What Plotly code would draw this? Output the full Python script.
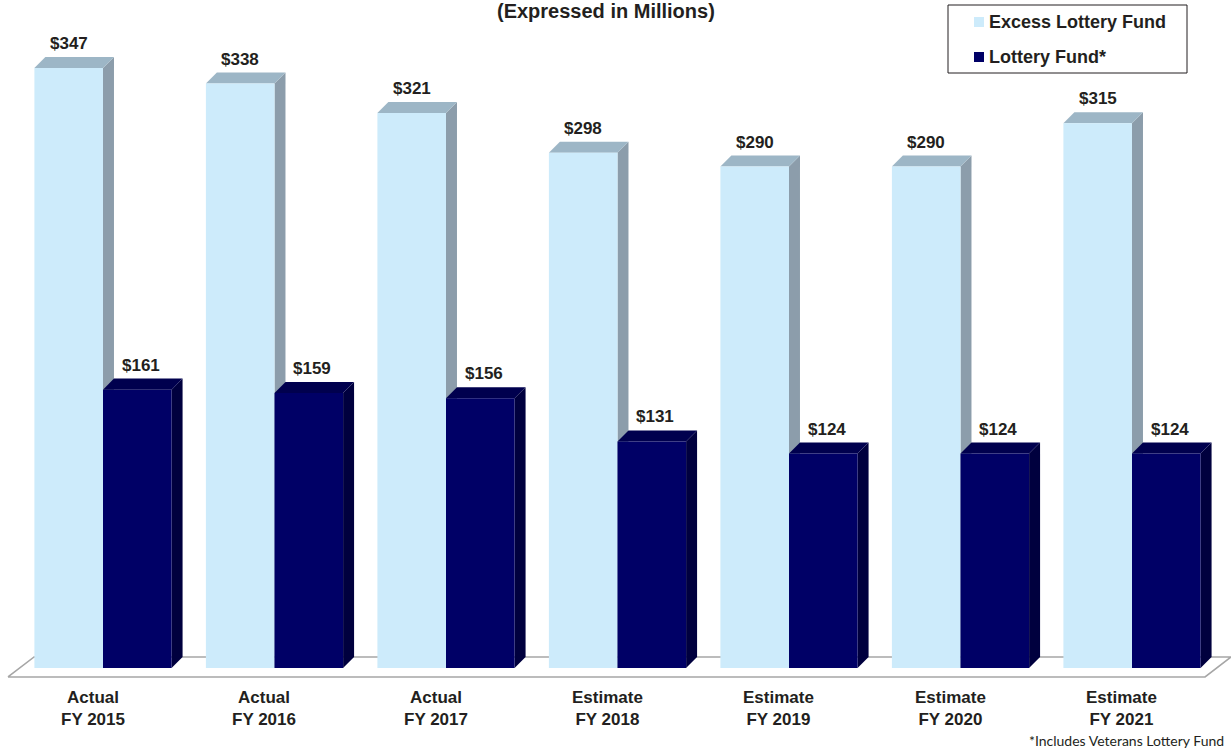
import plotly.graph_objects as go

# Fiscal years and fund revenues (millions of dollars)
categories = ["Actual<br>FY 2015", "Actual<br>FY 2016", "Actual<br>FY 2017",
              "Estimate<br>FY 2018", "Estimate<br>FY 2019", "Estimate<br>FY 2020",
              "Estimate<br>FY 2021"]
excess_lottery = [347, 338, 321, 298, 290, 290, 315]
lottery_fund = [161, 159, 156, 131, 124, 124, 124]
series_names = ["Excess Lottery Fund", "Lottery Fund*"]
value_labels_excess = [f"${v}" for v in excess_lottery]
value_labels_lottery = [f"${v}" for v in lottery_fund]

# Pseudo-3D bar geometry (data units)
BW = 0.4      # bar width
DX = 0.064    # depth offset along x
DY = 6.4      # depth offset along y

W, H = 1231, 748
FONT = "Arial, Liberation Sans, sans-serif"
TXT = "#231F20"

faces = {
    "excess": dict(front="#CDEBFB", top="#9DB6C6", side="#8C9DAB"),
    "lottery": dict(front="#000066", top="#00004E", side="#00003E"),
}

fig = go.Figure()


def poly(xs, ys, fill, line=None, width=0, name=None):
    fig.add_trace(go.Scatter(
        x=xs + [xs[0]], y=ys + [ys[0]], mode="lines", fill="toself",
        fillcolor=fill, line=dict(color=line or fill, width=width),
        name=name, hoverinfo="skip", showlegend=False))


n = len(categories)

# Floor parallelogram under the bars
floor_front, floor_back = -5.2, DY
floor_l, floor_r, floor_dx = -0.554, n - 1 + 0.426, 0.152
poly([floor_l, floor_r, floor_r + floor_dx, floor_l + floor_dx],
     [floor_front, floor_front, floor_back, floor_back],
     "rgba(255,255,255,0)", line="#A6A6A6", width=1.6)


def bar3d(x0, value, col, name):
    x1 = x0 + BW
    # side face
    poly([x1, x1 + DX, x1 + DX, x1], [0, DY, value + DY, value], col["side"], name=name)
    # top face
    poly([x0, x1, x1 + DX, x0 + DX], [value, value, value + DY, value + DY], col["top"], name=name)
    # front face
    poly([x0, x1, x1, x0], [0, 0, value, value], col["front"], name=name)


for i in range(n):
    bar3d(i - BW, excess_lottery[i], faces["excess"], series_names[0])
    bar3d(i, lottery_fund[i], faces["lottery"], series_names[1])

annotations = []
for i in range(n):
    annotations.append(dict(
        x=i - BW / 2, y=excess_lottery[i] + DY, text=value_labels_excess[i],
        showarrow=False, yanchor="bottom", yshift=2,
        font=dict(family=FONT, size=17, color=TXT, weight="bold")))
    annotations.append(dict(
        x=i + BW / 2 + DX / 3, y=lottery_fund[i] + DY, text=value_labels_lottery[i],
        showarrow=False, yanchor="bottom", yshift=2,
        font=dict(family=FONT, size=17, color=TXT, weight="bold")))
    annotations.append(dict(
        x=i - 0.06, y=-23.7, text=categories[i], showarrow=False,
        yanchor="middle",
        font=dict(family=FONT, size=17, color=TXT, weight="bold")))

annotations.append(dict(
    x=0.492, y=1 - 11 / H, xref="paper", yref="paper",
    text="(Expressed in Millions)", showarrow=False, yanchor="middle",
    font=dict(family=FONT, size=20, color=TXT, weight="bold")))
annotations.append(dict(
    x=1226 / W, y=1 - 740 / H, xref="paper", yref="paper",
    text="*Includes Veterans Lottery Fund", showarrow=False,
    xanchor="right", yanchor="middle",
    font=dict(family="Lato, Noto Sans, sans-serif", size=14, color=TXT)))

# Boxed legend in the top-right corner (pixel positions converted to paper)
def px_x(p):
    return p / W


def px_y(p):
    return 1 - p / H


shapes = [dict(type="rect", xref="paper", yref="paper",
               x0=px_x(948), x1=px_x(1187), y0=px_y(73), y1=px_y(5),
               line=dict(color=TXT, width=1), fillcolor="white", layer="above")]
for k, (name, key) in enumerate(zip(series_names, ["excess", "lottery"])):
    cy = 22 + 35 * k
    shapes.append(dict(type="rect", xref="paper", yref="paper",
                       x0=px_x(974), x1=px_x(984), y0=px_y(cy + 5), y1=px_y(cy - 5),
                       line=dict(width=0), fillcolor=faces[key]["front"], layer="above"))
    annotations.append(dict(
        x=px_x(987), y=px_y(cy), xref="paper", yref="paper", text=name,
        showarrow=False, xanchor="left", yanchor="middle",
        font=dict(family=FONT, size=18, color=TXT, weight="bold")))

fig.update_layout(
    width=W, height=H,
    margin=dict(l=0, r=0, t=0, b=0),
    paper_bgcolor="white", plot_bgcolor="white",
    xaxis=dict(range=[-103 / 171.5, (W - 103) / 171.5],
               visible=False, fixedrange=True),
    yaxis=dict(range=[-80 / 1.729, 668 / 1.729],
               visible=False, fixedrange=True),
    showlegend=False,
    shapes=shapes,
    annotations=annotations,
)

fig.write_html("out.html")
